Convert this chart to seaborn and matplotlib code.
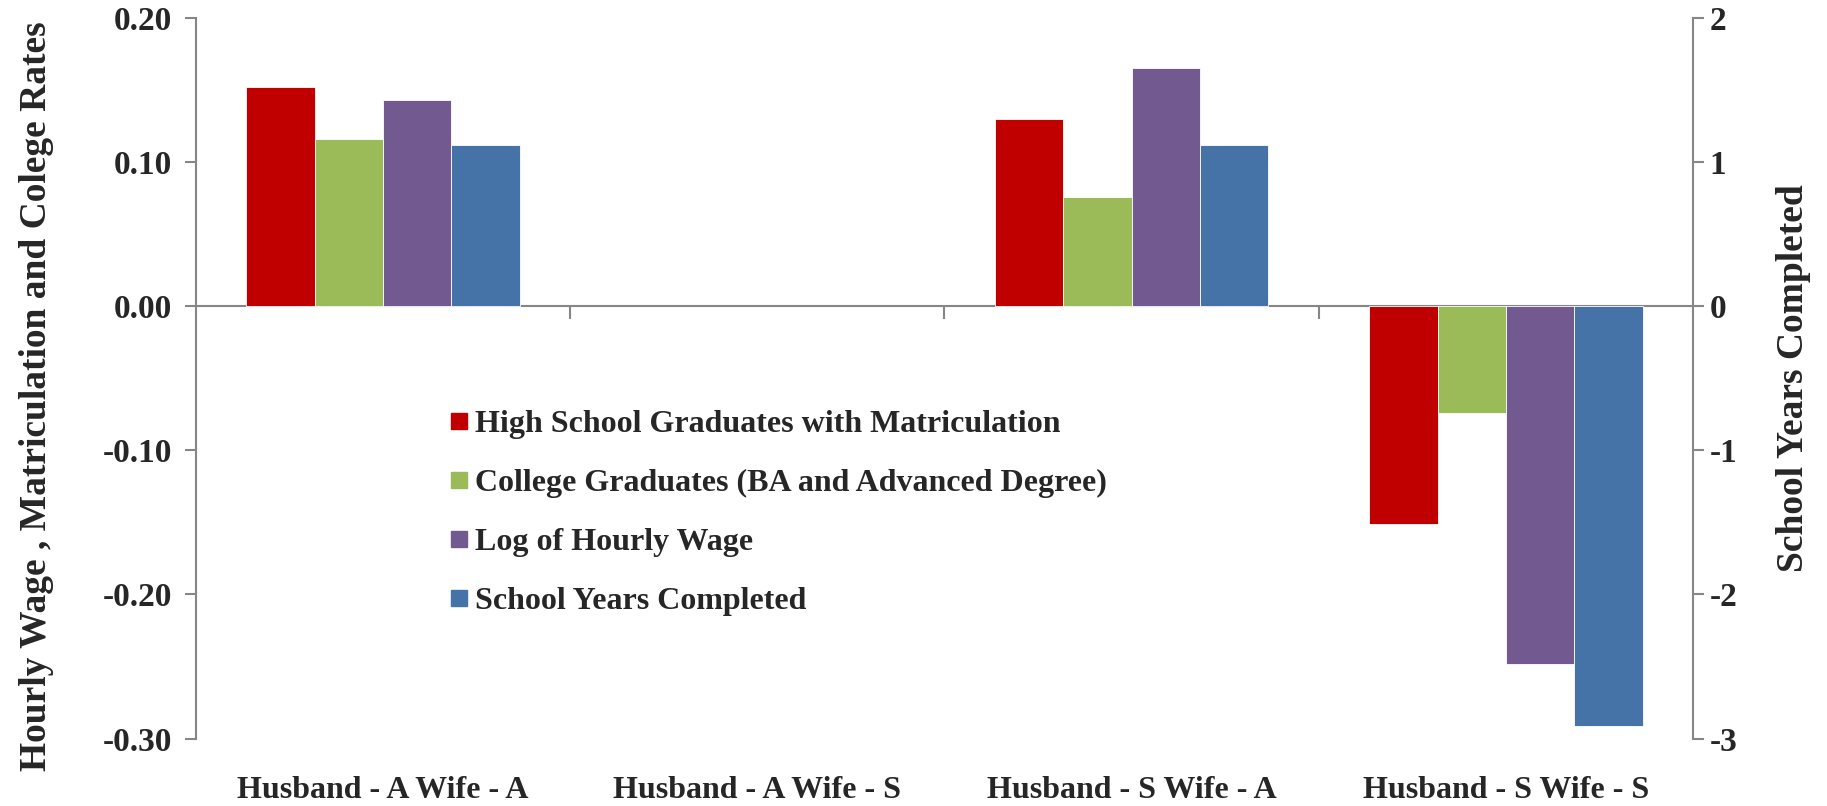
import numpy as np
import pandas as pd
import matplotlib.pyplot as plt
import seaborn as sns
from matplotlib.lines import Line2D
import matplotlib.ticker as mticker

# Werte
couples = ["Husband - A Wife - A", "Husband - A Wife - S",
           "Husband - S Wife - A", "Husband - S Wife - S"]
series = ["High School Graduates with Matriculation",
          "College Graduates (BA and Advanced Degree)",
          "Log of Hourly Wage",
          "School Years Completed"]
matric = [0.152, np.nan, 0.130, -0.151]
college = [0.116, np.nan, 0.076, -0.074]
log_wage = [0.143, np.nan, 0.165, -0.248]
school_years = [1.12, np.nan, 1.12, -2.91]   # rechte Achse
colors = ["#C00000", "#9BBB59", "#72598F", "#4573A7"]

df = pd.DataFrame({
    "couple": couples * 4,
    "series": np.repeat(series, len(couples)),
    "value": matric + college + log_wage + school_years,
}).dropna()
left = df[df["series"] != series[3]]
right = df[df["series"] == series[3]]

sns.set_style("white")
plt.rcParams["font.family"] = ["Liberation Serif", "DejaVu Serif"]
plt.rcParams["font.weight"] = "bold"
plt.rcParams["axes.unicode_minus"] = False
grey = "#868686"

fig = plt.figure(figsize=(18.27, 8.06), dpi=100)
ax = fig.add_axes([0.1072, 0.0836, 0.8195, 0.8944])
ax2 = ax.twinx()

bar_kw = dict(x="couple", y="value", hue="series", order=couples, hue_order=series,
              palette=dict(zip(series, colors)), width=0.73, dodge=True,
              saturation=1, errorbar=None, legend=False,
              edgecolor="white", linewidth=0.6)
sns.barplot(data=left, ax=ax, **bar_kw)
sns.barplot(data=right, ax=ax2, **bar_kw)

ax.set_xlim(-0.5, 3.5)
ax.set_ylim(-0.3, 0.2)
ax.set_yticks(np.arange(-0.3, 0.21, 0.1))
ax.yaxis.set_major_formatter(mticker.FormatStrFormatter("%.2f"))
ax2.set_ylim(-3, 2)
ax2.set_yticks(range(-3, 3))

for s in ["top", "bottom", "right"]:
    ax.spines[s].set_visible(False)
for s in ["top", "bottom", "left"]:
    ax2.spines[s].set_visible(False)
ax.spines["left"].set_color(grey)
ax2.spines["right"].set_color(grey)
ax.spines["left"].set_linewidth(1.5)
ax2.spines["right"].set_linewidth(1.5)

ax.tick_params(axis="y", left=True, length=8, width=1.5, color=grey,
               labelsize=24, pad=9)
ax2.tick_params(axis="y", right=True, length=8, width=1.5, color=grey,
                labelsize=24, pad=4)
ax.tick_params(axis="x", bottom=True, length=0, labelsize=23, pad=27)

# Nulllinie mit Trennstrichen zwischen den Gruppen
zero = ax.secondary_xaxis(0.6)
zero.set_xticks([0.5, 1.5, 2.5])
zero.set_xticklabels([])
zero.tick_params(direction="in", length=9, width=1.5, color=grey)
zero.spines["top"].set_color(grey)
zero.spines["top"].set_linewidth(1.5)

ax.set_xlabel("")
ax2.set_xlabel("")
ax.set_ylabel("Hourly Wage , Matriculation and Colege Rates", fontsize=27,
              fontweight="bold")
ax.yaxis.set_label_coords(-0.095, 0.475)
ax2.set_ylabel("School Years Completed", fontsize=27, fontweight="bold",
               labelpad=28)

handles = [Line2D([], [], marker="s", linestyle="none", markersize=12,
                  markerfacecolor=c, markeredgecolor=c) for c in colors]
fig.legend(handles, series, loc="upper left", bbox_to_anchor=(0.237, 0.508),
           frameon=False, fontsize=23, labelspacing=0.93, handlelength=0.8,
           handletextpad=0.1, borderaxespad=0)

fig.savefig("out.png", dpi=100)
